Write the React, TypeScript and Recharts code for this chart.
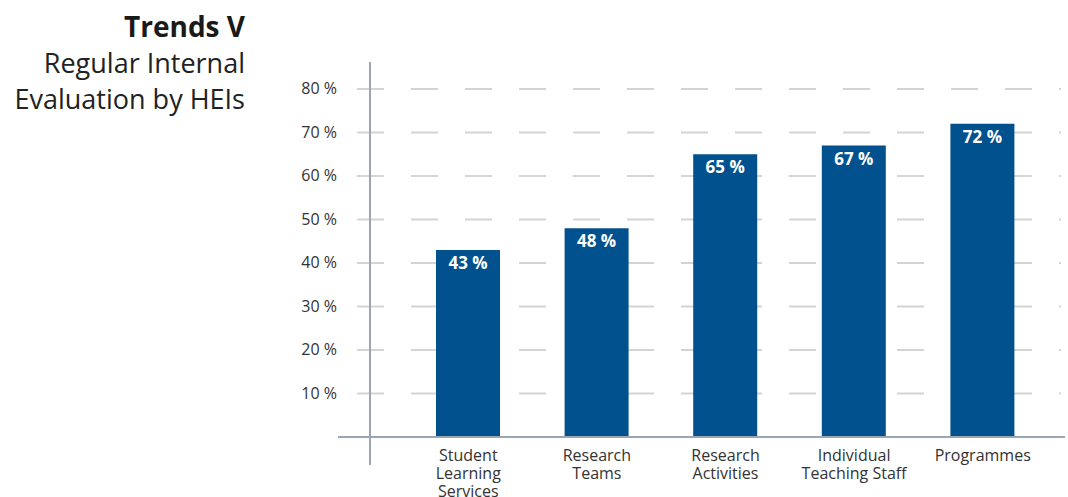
import React from "react";
import { BarChart, Bar, XAxis, YAxis, CartesianGrid, LabelList } from "recharts";

const categories = ["Student\nLearning\nServices", "Research\nTeams", "Research\nActivities", "Individual\nTeaching Staff", "Programmes"];
const values = [43, 48, 65, 67, 72];
const yTicks = [10, 20, 30, 40, 50, 60, 70, 80];

const data = categories.map((c, i) => ({ name: c, value: values[i] }));

const FONT = "'Open Sans', 'DejaVu Sans', sans-serif";
const BAR = "#02518f";
const AXIS = "#9aa7b2";
const TEXT = "#333333";

const XTick = (props: any) => {
  const { x, y, payload } = props;
  const lines = String(payload.value).split("\n");
  return (
    <text x={x} y={y} textAnchor="middle" fill={TEXT} fontSize={16} fontFamily={FONT}>
      {lines.map((l, i) => (
        <tspan key={i} x={x} dy={i === 0 ? 24 : 18}>{l}</tspan>
      ))}
    </text>
  );
};

const YTick = (props: any) => {
  const { x, y, payload } = props;
  return (
    <text x={x} y={y} dy={5} textAnchor="end" fill={TEXT} fontSize={16} fontFamily={FONT}>
      {payload.value + " %"}
    </text>
  );
};

const BarLabel = (props: any) => {
  const { x, y, width, value } = props;
  return (
    <text x={x + width / 2} y={y + 19} textAnchor="middle" fill="#ffffff" fontSize={17} fontWeight={700} fontFamily={FONT}>
      {value + " %"}
    </text>
  );
};

const GridLine = (props: any) => {
  const { x1, x2, y1, y2, index } = props;
  return (
    <line
      key={"g" + index}
      x1={x1 + 19}
      x2={x2 - 4}
      y1={y1}
      y2={y2}
      stroke="#d4d4d4"
      strokeWidth={2}
      strokeDasharray="27 27"
    />
  );
};

export default function App() {
  return (
    <div style={{ position: "absolute", left: 0, top: 0, width: 1068, height: 497, background: "#fff", fontFamily: FONT }}>
      <div style={{ position: "absolute", left: 0, top: 8, width: 245, textAlign: "right", color: "#1a1a1a" }}>
        <div style={{ fontSize: 28, fontWeight: 700, lineHeight: "37px" }}>Trends V</div>
        <div style={{ fontSize: 27, lineHeight: "36px", color: "#222" }}>
          Regular Internal
          <br />
          Evaluation by HEIs
        </div>
      </div>
      <div style={{ position: "absolute", left: 0, top: 0 }}>
        <BarChart width={1068} height={497} data={data} margin={{ top: 89, right: 3, bottom: 0, left: 278 }}>
          <CartesianGrid vertical={false} horizontal={GridLine} horizontalValues={yTicks} />
          <XAxis
            dataKey="name"
            height={60}
            padding={{ left: 66, right: 18 }}
            axisLine={{ stroke: AXIS, strokeWidth: 2 }}
            tickLine={false}
            tickSize={0}
            tickMargin={0}
            interval={0}
            tick={<XTick />}
          />
          <YAxis
            width={60}
            domain={[0, 80]}
            ticks={yTicks}
            axisLine={false}
            tickLine={false}
            tickSize={0}
            tickMargin={1}
            tick={<YTick />}
          />
          <Bar dataKey="value" fill={BAR} barSize={64} isAnimationActive={false}>
            <LabelList dataKey="value" content={<BarLabel />} />
          </Bar>
        </BarChart>
      </div>
      <div style={{ position: "absolute", left: 369, top: 62, width: 2, height: 403, background: AXIS }} />
    </div>
  );
}
